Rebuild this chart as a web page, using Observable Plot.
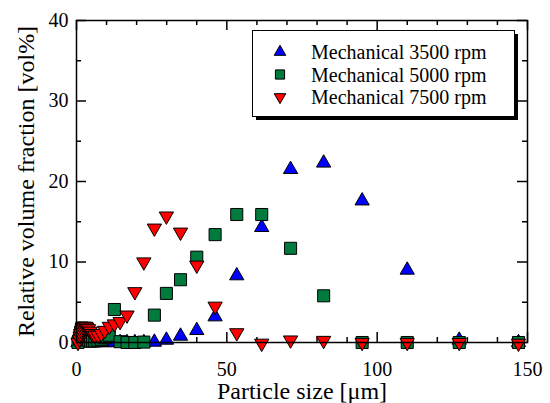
<!DOCTYPE html>
<html><head><meta charset="utf-8">
<script src="https://cdn.jsdelivr.net/npm/d3@7"></script>
<script src="https://cdn.jsdelivr.net/npm/@observablehq/plot@0.6"></script>
<style>
body{margin:0;background:#fff;}
#wrap{position:relative;width:550px;height:403px;font-family:"Liberation Serif";}
#legend{position:absolute;left:0;top:0;}
</style></head>
<body><div id="wrap"></div>
<script>
// ---- data ----
const sizes = [0.5, 1.0, 1.2, 1.4, 1.7, 1.9, 2.2, 2.6, 3.0, 3.4, 4.0, 4.6, 5.3, 6.1, 7.1, 8.2, 9.4, 10.9, 12.6, 14.5, 16.8, 19.4, 22.4, 25.9, 29.9, 34.6, 40.0, 46.1, 53.3, 61.6, 71.2, 82.2, 95.0, 110.0, 127.3, 147.0];
const rpm3500 = [0,0,0,0,0,0,0,0,0,0,0,0,0,0,0,0,0,0,0,0,0,0,0,0.05,0.3,0.8,1.5,3.2,8.3,14.3,21.5,22.3,17.6,9.0,0.3,0.0];
const rpm5000 = [0,0.4,0.9,1.3,1.7,1.8,1.6,1.2,0.8,0.5,0.3,0.2,0.2,0.2,0.3,0.4,0.6,0.9,4.1,0.1,0.0,0.0,0.05,3.4,6.1,7.8,10.6,13.4,15.9,15.9,11.7,5.8,0,0,0,0];
const rpm7500 = [0,0.4,0.8,1.1,1.4,1.7,1.9,2.0,2.0,1.9,1.7,1.4,1.1,0.9,0.9,1.1,1.5,2.0,2.3,2.6,3.4,6.3,10.0,14.2,15.7,13.7,9.6,4.5,1.2,-0.1,0.3,0.25,0,0,0,-0.1];
const seriesNames = ["Mechanical 3500 rpm", "Mechanical 5000 rpm", "Mechanical 7500 rpm"];
const seriesColors = ["#0000ff", "#007a3d", "#ff0000"];
const xMajor = [0, 50, 100, 150];
const xMinor = [10, 20, 30, 40, 60, 70, 80, 90, 110, 120, 130, 140];
const yMajor = [0, 10, 20, 30, 40];
const yMinor = [5, 15, 25, 35];
const xLabel = "Particle size [μm]";
const yLabel = "Relative volume fraction [vol%]";

// ---- layout ----
const W = 550, H = 403, mL = 76, mR = 23, mT = 20, mB = 61;
const iW = W - mL - mR, iH = H - mT - mB;
const toRows = (vals) => sizes.map((s, i) => ({x: s, y: vals[i]}));
const font = "Liberation Serif";

const chart = Plot.plot({
  width: W, height: H,
  marginLeft: mL, marginRight: mR, marginTop: mT, marginBottom: mB,
  style: {fontFamily: font, fontSize: "20px", color: "#000", background: "#fff"},
  x: {domain: [0, 150]},
  y: {domain: [0, 40]},
  marks: [
    Plot.axisX({ticks: xMajor, tickSize: 0, tickPadding: 19, fontSize: 20, fontFamily: font, label: null}),
    Plot.axisX({ticks: [], tickSize: 0, fontSize: 24, fontFamily: font, label: xLabel, labelAnchor: "center", labelOffset: 56, labelArrow: false}),
    Plot.axisY({ticks: yMajor, tickSize: 0, tickPadding: 8, fontSize: 20, fontFamily: font, label: null}),
    Plot.axisY({ticks: [], tickSize: 0, fontSize: 24, fontFamily: font, label: yLabel, labelAnchor: "center", labelOffset: 60, labelArrow: false}),
    Plot.tickX(xMajor, {x: d => d, insetTop: iH - 10, stroke: "#000", strokeWidth: 1.5}),
    Plot.tickX(xMajor, {x: d => d, insetBottom: iH - 10, stroke: "#000", strokeWidth: 1.5}),
    Plot.tickX(xMinor, {x: d => d, insetTop: iH - 5, stroke: "#000", strokeWidth: 1.5}),
    Plot.tickX(xMinor, {x: d => d, insetBottom: iH - 5, stroke: "#000", strokeWidth: 1.5}),
    Plot.tickY(yMajor, {y: d => d, insetRight: iW - 10, stroke: "#000", strokeWidth: 1.5}),
    Plot.tickY(yMajor, {y: d => d, insetLeft: iW - 10, stroke: "#000", strokeWidth: 1.5}),
    Plot.tickY(yMinor, {y: d => d, insetRight: iW - 5, stroke: "#000", strokeWidth: 1.5}),
    Plot.tickY(yMinor, {y: d => d, insetLeft: iW - 5, stroke: "#000", strokeWidth: 1.5}),
    Plot.dot(toRows(rpm3500), {x: "x", y: "y", symbol: "triangle", r: 5.3, fill: seriesColors[0], stroke: "#000", strokeWidth: 1}),
    Plot.dot(toRows(rpm5000), {x: "x", y: "y", symbol: "square", r: 6.8, fill: seriesColors[1], stroke: "#000", strokeWidth: 1}),
    Plot.dot(toRows(rpm7500), {x: "x", y: "y", symbol: "triangle", rotate: 180, r: 5.3, fill: seriesColors[2], stroke: "#000", strokeWidth: 1}),
    Plot.frame({stroke: "#000", strokeWidth: 1.5})
  ]
});
const wrap = document.getElementById("wrap");
wrap.appendChild(chart);
d3.select(chart).selectAll("text").attr("font-family", font);

// ---- legend (overlay) ----
const lg = d3.select(wrap).append("svg").attr("id", "legend").attr("width", W).attr("height", H);
lg.append("rect").attr("x", 256).attr("y", 34).attr("width", 262).attr("height", 86).attr("fill", "#000");
lg.append("rect").attr("x", 252.5).attr("y", 30.5).attr("width", 262).attr("height", 86).attr("fill", "#fff").attr("stroke", "#000").attr("stroke-width", 1);
const syms = [d3.symbolTriangle, d3.symbolSquare, d3.symbolTriangle];
const symR = [4.3, 5.2, 4.3];
seriesNames.forEach((name, i) => {
  const cy = 52 + i * 22.5;
  lg.append("path")
    .attr("d", d3.symbol(syms[i], Math.PI * symR[i] * symR[i])())
    .attr("transform", `translate(280,${cy})${i === 2 ? " rotate(180)" : ""}`)
    .attr("fill", seriesColors[i]).attr("stroke", "#000").attr("stroke-width", 1);
  lg.append("text").attr("x", 311).attr("y", cy).attr("dy", "0.35em")
    .attr("font-family", font).attr("font-size", 20).attr("fill", "#000").text(name);
});
</script>
</body></html>
